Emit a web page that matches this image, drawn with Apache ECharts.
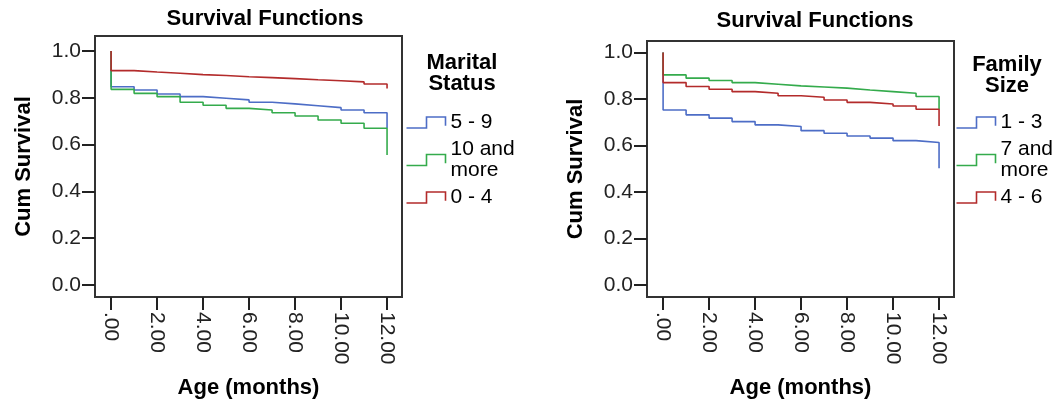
<!DOCTYPE html>
<html lang="en">
<head>
<meta charset="UTF-8">
<title>Survival Functions</title>
<script src="https://cdn.jsdelivr.net/npm/echarts@6/dist/echarts.min.js"></script>
<style>
  html, body { margin: 0; padding: 0; background: #fff; }
  #main { width: 1053px; height: 410px; }
</style>
</head>
<body>
<div id="main"></div>
<script type="text/javascript">
// months (x) shared by every curve
var months = [0, 0, 1, 2, 3, 4, 5, 6, 7, 8, 9, 10, 11, 12];

// left chart: Marital Status
var maritalNames = ['5 - 9', '10 and more', '0 - 4'];
var marital5to9   = [1.0, 0.847, 0.833, 0.816, 0.805, 0.798, 0.791, 0.781, 0.774, 0.766, 0.758, 0.748, 0.736, 0.670];
var marital10more = [1.0, 0.836, 0.819, 0.805, 0.781, 0.768, 0.755, 0.748, 0.736, 0.722, 0.705, 0.691, 0.670, 0.556];
var marital0to4   = [1.0, 0.916, 0.910, 0.905, 0.899, 0.895, 0.890, 0.886, 0.882, 0.877, 0.873, 0.868, 0.859, 0.840];

// right chart: Family Size
var familyNames = ['1 - 3', '7 and more', '4 - 6'];
var family1to3   = [1.0, 0.753, 0.732, 0.718, 0.703, 0.689, 0.682, 0.664, 0.653, 0.641, 0.632, 0.621, 0.613, 0.502];
var family7more  = [1.0, 0.904, 0.890, 0.880, 0.871, 0.864, 0.857, 0.852, 0.847, 0.839, 0.832, 0.825, 0.811, 0.755];
var family4to6   = [1.0, 0.871, 0.854, 0.842, 0.832, 0.825, 0.814, 0.808, 0.796, 0.786, 0.779, 0.770, 0.756, 0.684];

var xTicks = [0, 2, 4, 6, 8, 10, 12];
var yTicks = [0, 0.2, 0.4, 0.6, 0.8, 1.0];

var colors = ['#4d6dc6', '#34ab4c', '#b32b2b'];
var FONT = '"Liberation Sans", Arial, sans-serif';

function pairs(ys) {
    var out = [];
    for (var i = 0; i < ys.length; i++) out.push([months[i], ys[i]]);
    return out;
}

function xAxisFor(idx, min, max) {
    return {
        type: 'value', gridIndex: idx, min: min, max: max,
        name: 'Age (months)', nameLocation: 'middle', nameGap: 80,
        nameTextStyle: { fontFamily: FONT, fontSize: 22, fontWeight: 'bold', color: '#000' },
        axisLine: { show: true, onZero: false, lineStyle: { color: '#333', width: 2 } },
        axisTick: { show: true, length: 13, customValues: xTicks, lineStyle: { color: '#222', width: 2 } },
        axisLabel: {
            customValues: xTicks, rotate: -90, margin: 15,
            fontFamily: FONT, fontSize: 21, color: '#222',
            formatter: function (v) { return v === 0 ? '.00' : v.toFixed(2); }
        },
        splitLine: { show: false }
    };
}

function yAxisFor(idx, min, max) {
    return {
        type: 'value', gridIndex: idx, min: min, max: max,
        name: 'Cum Survival', nameLocation: 'middle', nameGap: 60,
        nameTextStyle: { fontFamily: FONT, fontSize: 22, fontWeight: 'bold', color: '#000' },
        axisLine: { show: true, onZero: false, lineStyle: { color: '#333', width: 2 } },
        axisTick: { show: true, length: 13, customValues: yTicks, lineStyle: { color: '#222', width: 2 } },
        axisLabel: {
            customValues: yTicks, margin: 14,
            fontFamily: FONT, fontSize: 21, color: '#222',
            formatter: function (v) { return v.toFixed(1); }
        },
        splitLine: { show: false }
    };
}

function stepSeries(name, ys, color, idx) {
    return {
        name: name, type: 'line', step: 'end',
        xAxisIndex: idx, yAxisIndex: idx,
        data: pairs(ys), showSymbol: false, silent: true,
        lineStyle: { color: color, width: 1.6 },
        itemStyle: { color: color }
    };
}

var stepIcon = 'path://M0,11 L20,11 L20,1 L39,1 L39,9';

function legendFor(names, left) {
    return {
        orient: 'vertical', left: left, top: 112, padding: 0,
        itemWidth: 39, itemHeight: 11, itemGap: 6,
        symbolKeepAspect: false,
        textStyle: { fontFamily: FONT, fontSize: 21, color: '#000', lineHeight: 21 },
        formatter: function (n) { return n.replace(' and ', ' and\n'); },
        data: names.map(function (n, i) {
            return { name: n, icon: stepIcon,
                     itemStyle: { color: 'none', borderColor: colors[i], borderWidth: 1.6 } };
        }),
        selectedMode: false
    };
}

var titleStyle = { fontFamily: FONT, fontSize: 22, fontWeight: 'bold', color: '#000' };
var legendTitleStyle = { fontFamily: FONT, fontSize: 22, fontWeight: 'bold', color: '#000', lineHeight: 21 };

var option = {
    backgroundColor: '#fff',
    animation: false,
    title: [
        { text: 'Survival Functions', left: 265, top: 8, textAlign: 'center', textStyle: titleStyle, padding: 0 },
        { text: 'Survival Functions', left: 815, top: 10, textAlign: 'center', textStyle: titleStyle, padding: 0 },
        { text: 'Marital\nStatus', left: 462, top: 52, textAlign: 'center', textStyle: legendTitleStyle, padding: 0 },
        { text: 'Family\nSize', left: 1007, top: 54, textAlign: 'center', textStyle: legendTitleStyle, padding: 0 }
    ],
    grid: [
        { left: 95, top: 36, width: 307, height: 261, show: true, borderColor: '#333', borderWidth: 2, backgroundColor: '#fff' },
        { left: 647, top: 41, width: 307, height: 256, show: true, borderColor: '#333', borderWidth: 2, backgroundColor: '#fff' }
    ],
    xAxis: [xAxisFor(0, -0.70, 12.65), xAxisFor(1, -0.70, 12.65)],
    yAxis: [yAxisFor(0, -0.051, 1.064), yAxisFor(1, -0.052, 1.050)],
    legend: [legendFor(maritalNames, 404), legendFor(familyNames, 954)],
    series: [
        stepSeries(maritalNames[0], marital5to9, colors[0], 0),
        stepSeries(maritalNames[1], marital10more, colors[1], 0),
        stepSeries(maritalNames[2], marital0to4, colors[2], 0),
        stepSeries(familyNames[0], family1to3, colors[0], 1),
        stepSeries(familyNames[1], family7more, colors[1], 1),
        stepSeries(familyNames[2], family4to6, colors[2], 1)
    ]
};

var myChart = echarts.init(document.getElementById('main'));
myChart.setOption(option);
</script>
</body>
</html>
